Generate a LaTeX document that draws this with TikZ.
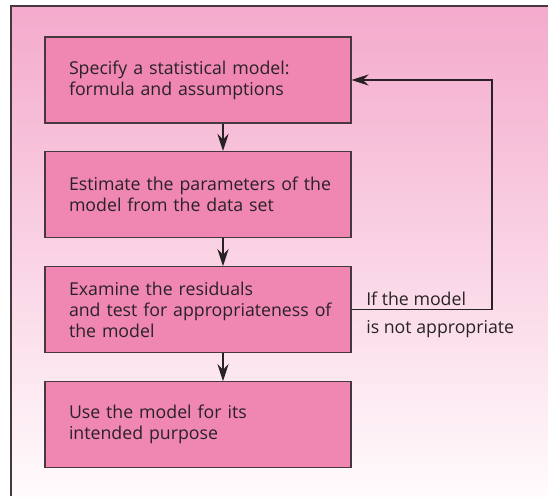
\documentclass[tikz,border=0pt]{standalone}
\usepackage{fontspec}
\setmainfont{Open Sans}
\usetikzlibrary{arrows.meta}
\definecolor{pagepink}{RGB}{244,170,204}
\definecolor{pagewhite}{RGB}{255,251,252}
\definecolor{stepfill}{RGB}{240,134,178}
\definecolor{frameink}{RGB}{70,56,62}
\definecolor{textink}{RGB}{40,34,38}
\begin{document}
\begin{tikzpicture}[x=0.75pt, y=-0.75pt, font=\fontsize{13.3}{15.75}\selectfont,
  stepbox/.style={draw=frameink, line width=0.8pt, fill=stepfill, text=textink,
    minimum width=229.5pt, minimum height=64.5pt, text width=211.5pt,
    inner xsep=9pt, align=left, execute at begin node={\leftskip=9pt\relax}},
  flow/.style={draw=textink, line width=0.8pt, -{Stealth[length=13pt, width=8.5pt, inset=4.5pt]}}]
  \useasboundingbox (0,0) rectangle (548,496);
  \shade[top color=pagepink, bottom color=pagewhite] (11,6) rectangle (548,496);
  \draw[frameink, line width=1pt] (11,496) -- (11,6) -- (548,6);
  % the four steps
  \node[stepbox] (specify) at (198,80) {Specify a statistical model:\\formula and assumptions};
  \node[stepbox] (estimate) at (198,194.5) {Estimate the parameters of the\\model from the data set};
  \node[stepbox] (examine) at (198,309.7) {Examine the residuals\\and test for appropriateness of\\the model};
  \node[stepbox] (use) at (198,424.7) {Use the model for its\\intended purpose};
  \draw[flow] ([xshift=18.75pt]specify.south) -- ([xshift=18.75pt]estimate.north);
  \draw[flow] ([xshift=18.75pt]estimate.south) -- ([xshift=18.75pt]examine.north);
  \draw[flow] ([xshift=18.75pt]examine.south) -- ([xshift=18.75pt]use.north);
  % loop back when the model does not fit
  \coordinate (turn) at (492,80);
  \draw[flow] (examine.east) -| (turn) -- (specify.east);
  \node[text=textink, anchor=base west, inner sep=0pt] (iflabel) at (366,305) {If the model};
  \node[text=textink, anchor=base west, inner sep=0pt] (notlabel) at (366,333) {is not appropriate};
\end{tikzpicture}
\end{document}
